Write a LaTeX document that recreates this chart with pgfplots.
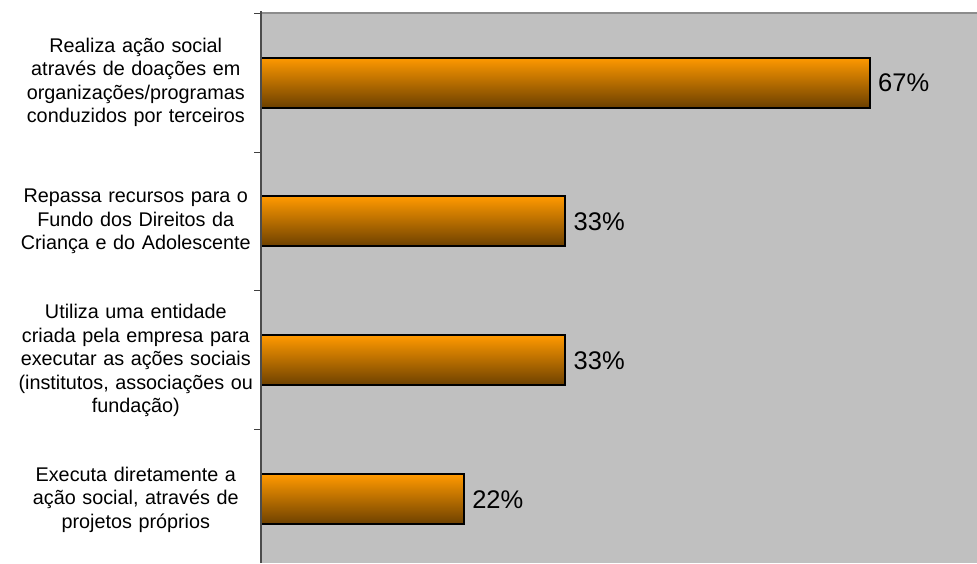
\documentclass[border=0pt]{standalone}
\usepackage{pgfplots}
\pgfplotsset{compat=1.18}
\usepackage{fontspec}
\setmainfont{Liberation Sans}
\definecolor{bg}{RGB}{192,192,192}
\definecolor{bartop}{RGB}{255,153,0}
\definecolor{barbot}{RGB}{108,64,0}
\pgfplotsset{barstyle/.style={xbar, bar width=50pt, bar shift=0pt, draw=black, line width=2pt, top color=bartop, bottom color=barbot}}
\begin{document}
\begin{tikzpicture}
\path[use as bounding box] (0,0) rectangle (977pt,563pt);
\begin{axis}[
  at={(261pt,0pt)}, anchor=south west,
  scale only axis, width=716pt, height=550pt,
  xmin=0, xmax=78.4,
  ymin=-0.5, ymax=3.457,
  y dir=reverse,
  axis background/.style={fill=bg},
  axis line style={draw=none},
  xtick=\empty,
  ytick={0,1,2,3},
  yticklabels={
    {Realiza ação social\\através de doações em\\organizações/programas\\conduzidos por terceiros},
    {Repassa recursos para o\\Fundo dos Direitos da\\Criança e do Adolescente},
    {Utiliza uma entidade\\criada pela empresa para\\executar as ações sociais\\(institutos, associações ou\\fundação)},
    {Executa diretamente a\\ação social, através de\\projetos próprios}},
  major tick length=0pt,
  minor ytick={-0.5,0.5,1.5,2.5,3.5},
  minor tick length=7pt,
  tick align=outside,
  ytick pos=left,
  minor tick style={draw=black!75, line width=1pt},
  yticklabel style={font=\fontsize{19.8}{23.5}\selectfont, text width=240pt, align=center, inner sep=0pt, xshift=-5pt},
  /pgf/number format/assume math mode=true,
  clip=false,
  point meta=x,
  nodes near coords={\pgfmathprintnumber[fixed,precision=0,assume math mode=true]{\pgfplotspointmeta}\%},
  every node near coord/.append style={font=\fontsize{25.5}{30}\selectfont, anchor=west, xshift=4pt, text=black},
  after end axis/.code={
    \draw[draw=black!45, line width=2pt] (rel axis cs:0,1) -- (rel axis cs:1,1);
    \draw[draw=black!70, line width=2pt] (rel axis cs:0,0) -- (rel axis cs:0,1.003);
  },
]
\addplot[barstyle] coordinates {(66.67,0)};
\addplot[barstyle] coordinates {(33.33,1)};
\addplot[barstyle] coordinates {(33.33,2)};
\addplot[barstyle] coordinates {(22.22,3)};
\end{axis}
\end{tikzpicture}
\end{document}
